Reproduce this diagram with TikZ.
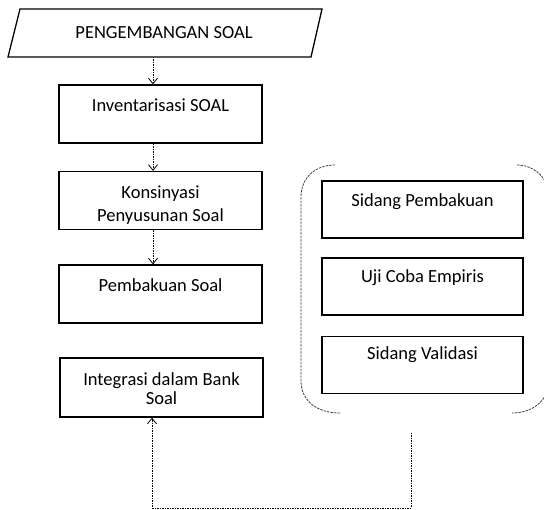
\documentclass[tikz,border=0pt]{standalone}
\usepackage{fontspec}
\setmainfont{Carlito}
\usetikzlibrary{arrows.meta,calc}
\begin{document}
\begin{tikzpicture}[x=1pt,y=-1pt,
  box/.style={draw=black,line width=1.3pt,minimum width=203pt,minimum height=58pt,inner sep=0pt},
  gbox/.style={draw=black,line width=1.3pt,minimum width=201pt,minimum height=57pt,inner sep=0pt},
  lbl/.style={font=\fontsize{18.5}{22}\selectfont,align=center,inner sep=0pt},
  flow/.style={draw=black,line width=0.8pt,dash pattern=on 1.5pt off 1pt,-{Straight Barb[length=5.5pt,width=9pt]}},
  bracket/.style={draw=black!75,line width=0.8pt,dash pattern=on 2.5pt off 1pt}]
\useasboundingbox (0,0) rectangle (544,510);

% title parallelogram
\draw[line width=1.3pt] (20,9) -- (322,9) -- (311,57) -- (8,57) -- cycle;
\node[lbl] (head) at (164,33) {PENGEMBANGAN SOAL};
\coordinate (headb) at (153,57);

% main column
\node[box] (inv)   at (160.5,114)   {};
\node[box] (kons)  at (160.5,200.5) {};
\node[box] (pemb)  at (160.5,294)   {};
\node[box,minimum height=59pt] (integ) at (161.5,387.5) {};

\node[lbl] (invT)   at (160.5,105) {Inventarisasi SOAL};
\node[lbl,font=\fontsize{18.5}{23.5}\selectfont] (konsT) at (160.5,205) {Konsinyasi\\Penyusunan Soal};
\node[lbl] (pembT)  at (160.5,285) {Pembakuan Soal};
\node[lbl,font=\fontsize{18.5}{19}\selectfont] (integT) at (161.5,389) {Integrasi dalam Bank\\Soal};

% right group
\node[gbox] (sp)  at (422.5,209.5) {};
\node[gbox] (uji) at (422.5,286.5) {};
\node[gbox] (sv)  at (422.5,365)   {};
\node[lbl] (spT)  at (422.5,202) {Sidang Pembakuan};
\node[lbl] (ujiT) at (422.5,278) {Uji Coba Empiris};
\node[lbl] (svT)  at (422.5,355) {Sidang Validasi};

% bracket around the group
\draw[bracket] (335,165) .. controls (315,165) and (301,178) .. (301,197)
  -- (301,381) .. controls (301,400) and (316,413) .. (340,413);
\draw[bracket] (517,165) .. controls (535,165) and (549,179) .. (549,197)
  -- (549,381) .. controls (549,399) and (534,413) .. (512,413);

% connectors
\draw[flow] (headb) -- (headb |- inv.north);
\draw[flow] (inv.south -| headb) -- (kons.north -| headb);
\draw[flow] (kons.south -| headb) -- (pemb.north -| headb);

\coordinate (gout)  at (411,433);
\coordinate (turnR) at (411,508);
\coordinate (turnL) at (152,508);
\draw[flow] (gout) -- (turnR) -- (turnL) -- (turnL |- integ.south);
\end{tikzpicture}
\end{document}
